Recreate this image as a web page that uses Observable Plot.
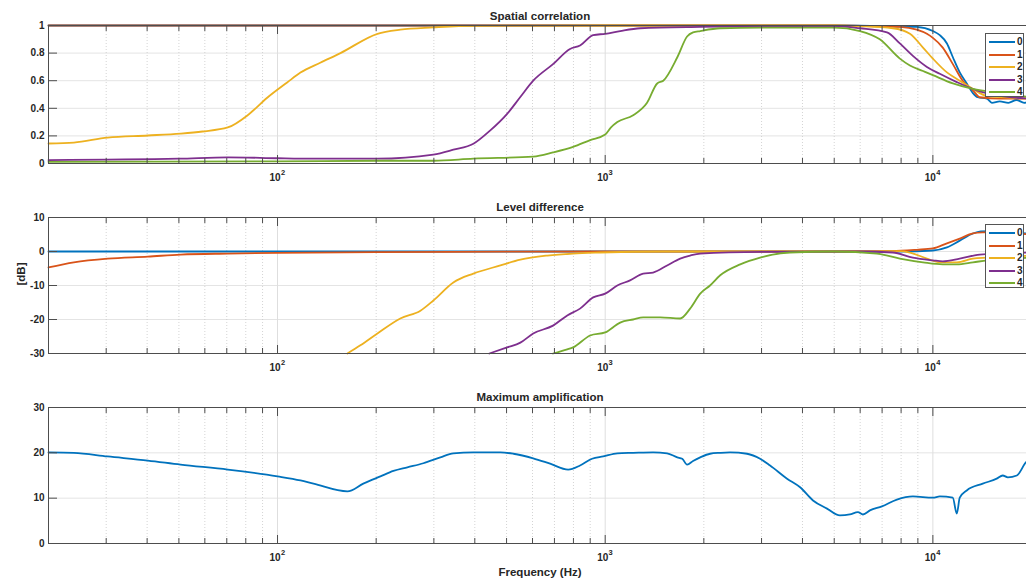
<!DOCTYPE html>
<html>
<head>
<meta charset="utf-8">
<script src="https://cdn.jsdelivr.net/npm/d3@7"></script>
<script src="https://cdn.jsdelivr.net/npm/@observablehq/plot@0.6"></script>
<style>
  html, body { margin: 0; padding: 0; background: #fff; overflow: hidden; }
  #chart { position: relative; width: 1026px; height: 582px; overflow: hidden;
           font-family: "Liberation Sans", Arial, sans-serif; }
  .panel { position: absolute; left: 0; width: 1032px; }
  .panel svg { max-width: none !important; }
  .legend { position: absolute; width: 39px; height: 64px; background: #fff;
            border: 1px solid #555; box-sizing: border-box; }
  .legend .row { position: absolute; left: 0; width: 100%; height: 12px; }
  .legend .swatch { position: absolute; left: 3px; top: 5px; width: 26px; height: 2px; }
  .legend .lab { position: absolute; left: 31px; top: 0; font: bold 10px "Liberation Sans", Arial, sans-serif;
                 line-height: 12px; color: #262626; }
</style>
</head>
<body>
<div id="chart"></div>
<script>
// Series names and MATLAB-style line colours
const SERIES = ["0", "1", "2", "3", "4"];
const COLORS = ["#0072BD", "#D95319", "#EDB120", "#7E2F8E", "#77AC30"];

// Frequency axis: decades (labelled) and minor positions
const DECADES = [100, 1000, 10000];
const MINORS = [30, 40, 50, 60, 70, 80, 90, 200, 300, 400, 500, 600, 700, 800, 900,
                2000, 3000, 4000, 5000, 6000, 7000, 8000, 9000];

// y tick values per panel
const corrTicks = [0, 0.2, 0.4, 0.6, 0.8, 1];
const levelTicks = [-30, -20, -10, 0, 10];
const ampTicks = [0, 10, 20, 30];

// Spatial correlation, [frequency Hz, correlation]
const corr0 = [[20, 1], [1000, 1], [5000, 1], [7000, 0.995], [8930, 0.99], [10000, 0.96], [10500, 0.93],
  [11040, 0.87], [11510, 0.77], [12080, 0.66], [12690, 0.58], [13250, 0.51], [13700, 0.48], [14620, 0.47],
  [15140, 0.44], [16000, 0.45], [17000, 0.44], [18000, 0.46], [19000, 0.44], [20000, 0.46]];
const corr1 = [[20, 1], [1000, 1], [5000, 1], [6500, 0.995], [7930, 0.99], [8930, 0.97], [9590, 0.94],
  [10000, 0.91], [10720, 0.84], [11510, 0.72], [12330, 0.60], [13250, 0.53], [13900, 0.48], [15990, 0.47],
  [20000, 0.47]];
const corr2 = [[20, 0.145], [23.9, 0.152], [30.3, 0.188], [40.2, 0.203], [50.6, 0.217], [59, 0.232],
  [70.5, 0.261], [81.6, 0.355], [93.2, 0.478], [107, 0.587], [117.5, 0.659], [135, 0.73], [155.6, 0.80],
  [201.8, 0.94], [237, 0.97], [299, 0.986], [396, 0.998], [1000, 1], [5000, 1], [5990, 0.995], [7550, 0.98],
  [8510, 0.94], [9330, 0.84], [10000, 0.76], [11040, 0.66], [12080, 0.60], [13250, 0.54], [14620, 0.49],
  [20000, 0.47]];
const corr3 = [[20, 0.025], [50, 0.035], [70.5, 0.045], [100, 0.038], [117.5, 0.035], [201.8, 0.035],
  [299, 0.065], [344, 0.10], [396, 0.143], [446, 0.24], [502, 0.36], [550, 0.48], [603, 0.60], [693, 0.72],
  [781, 0.83], [838, 0.855], [919, 0.93], [1000, 0.94], [1111, 0.96], [1279, 0.98], [1950, 0.99],
  [3000, 0.995], [5000, 0.995], [5990, 0.98], [7244, 0.95], [7930, 0.87], [8690, 0.78], [9590, 0.70],
  [10500, 0.65], [11830, 0.59], [13610, 0.53], [15990, 0.49], [20000, 0.47]];
const corr4 = [[20, 0.012], [100, 0.015], [201.8, 0.02], [299, 0.02], [396, 0.035], [603, 0.05],
  [693, 0.08], [798, 0.12], [900, 0.17], [1000, 0.21], [1040, 0.26], [1089, 0.30], [1217, 0.35],
  [1342, 0.44], [1441, 0.58], [1504, 0.60], [1660, 0.77], [1778, 0.92], [1854, 0.95], [1950, 0.96],
  [2244, 0.98], [3000, 0.985], [5000, 0.985], [5990, 0.96], [6887, 0.90], [7930, 0.76], [8510, 0.71],
  [9330, 0.67], [10000, 0.64], [11510, 0.58], [13250, 0.54], [15990, 0.51], [20000, 0.48]];

// Level difference, [frequency Hz, dB]
const level0 = [[20, 0], [1000, 0], [5000, 0], [8000, 0], [10000, 0.3], [11040, 1.2], [12080, 3.2],
  [13250, 5.3], [14000, 5.9], [15000, 6], [16000, 5.8], [18000, 5.5], [20000, 5.2]];
const level1 = [[20, -4.7], [23.9, -3.2], [30.3, -2.1], [40.2, -1.5], [50.6, -0.9], [70.5, -0.6],
  [100, -0.4], [200, -0.2], [500, -0.05], [1000, 0], [5000, 0], [7500, 0.1], [8930, 0.5], [10000, 0.9],
  [11040, 2.4], [12080, 3.8], [13250, 5.3], [14200, 5.6], [16000, 5.7], [18000, 5.3], [20000, 5.0]];
const level2 = [[163.4, -30], [179, -27.6], [201.8, -24.1], [237, -19.7], [273, -17.4], [299, -14.4],
  [344, -9.1], [396, -6.5], [479, -4.1], [551, -2.4], [666, -1.2], [798, -0.6], [966, -0.3], [1500, 0],
  [5000, 0], [7930, 0.1], [8510, -0.3], [9590, -2.1], [10500, -3.2], [11830, -3.2], [13250, -2.1],
  [14620, -1.8], [20000, -1.2]];
const level3 = [[443, -30], [502, -28.2], [551, -26.8], [603, -24.1], [693, -21.8], [766, -18.8],
  [838, -16.8], [919, -13.5], [1000, -12.4], [1089, -10], [1191, -8.5], [1306, -6.5], [1400, -6.2],
  [1545, -4.1], [1694, -2.1], [1816, -1.2], [1950, -0.6], [3000, -0.1], [6000, 0], [7550, -0.3],
  [8690, -1.8], [10000, -2.6], [10720, -2.9], [12080, -2.1], [13900, -0.9], [20000, -0.3]];
const level4 = [[693, -30], [766, -28.8], [798, -28.2], [900, -24.7], [1000, -23.8], [1111, -20.9],
  [1217, -20], [1306, -19.4], [1472, -19.4], [1694, -19.7], [1816, -16.8], [1950, -12.4], [2089, -10],
  [2244, -7], [2583, -3.8], [2970, -1.8], [3664, -0.3], [5000, 0], [6745, -0.6], [7930, -2.1],
  [9330, -3.2], [10720, -3.8], [11830, -3.8], [13250, -3.2], [14620, -2.6], [20000, -1.8]];

// Maximum amplification, [frequency Hz, dB]
const amp0 = [[20, 20.1], [23.9, 20.0], [30.3, 19.2], [40.2, 18.3], [50.6, 17.4], [70.5, 16.3],
  [100, 14.8], [117.5, 13.9], [128.8, 13.2], [163.4, 11.5], [182.7, 13.2], [206, 14.8], [225.8, 16.0],
  [249, 16.8], [278.6, 17.7], [314, 19.0], [344, 19.9], [396, 20.1], [478.6, 20.1], [524.8, 19.8],
  [603, 18.8], [679, 17.6], [771, 16.3], [838, 17.2], [912, 18.7], [986, 19.2], [1089, 19.9],
  [1217, 20.0], [1400, 20.1], [1545, 19.9], [1660, 19.0], [1718, 18.7], [1778, 17.4], [1854, 18.2],
  [1950, 19.0], [2089, 19.8], [2244, 20.0], [2404, 20.1], [2710, 19.8], [2970, 18.7], [3186, 17.2],
  [3589, 14.3], [3934, 12.4], [4307, 9.5], [4753, 7.7], [5204, 6.2], [5580, 6.4], [5906, 6.9],
  [6118, 6.4], [6426, 7.3], [6992, 8.2], [7766, 9.7], [8690, 10.4], [10000, 10.1], [10500, 10.4],
  [11500, 10.1], [11830, 6.6], [12080, 10.1], [12690, 11.7], [14200, 13.2], [15660, 14.3],
  [16340, 15.0], [16930, 14.6], [18040, 15.0], [19220, 17.9], [20000, 19.0]];

const corrSeries = [corr0, corr1, corr2, corr3, corr4];
const levelSeries = [level0, level1, level2, level3, level4];
const ampSeries = [amp0];

const AXIS = "#4d4d4d";
const TEXT = "#262626";
const FONT = "'Liberation Sans', Arial, sans-serif";

function rows(seriesList) {
  return seriesList.flatMap((pts, i) => pts.map(([f, v]) => ({f, v, s: SERIES[i]})));
}

function panel({top, height, marginTop, marginBottom, yDomain, yTicks, title, titleDy, data, yLabel, xLabel}) {
  const marks = [
    // grid
    Plot.ruleY(yTicks, {stroke: "#e4e4e4", strokeWidth: 1}),
    Plot.ruleX(MINORS, {stroke: "#c9c9c9", strokeWidth: 0.8, strokeDasharray: "1,2"}),
    Plot.ruleX(DECADES, {stroke: "#dedede", strokeWidth: 1}),
    // curves
    Plot.line(rows(data), {x: "f", y: "v", z: "s", stroke: "s", strokeWidth: 1.8, curve: "monotone-x"}),
    // inward ticks (box style)
    Plot.axisX({anchor: "bottom", ticks: DECADES, tickSize: -8, fill: "none", stroke: AXIS, label: null}),
    Plot.axisX({anchor: "bottom", ticks: MINORS, tickSize: -5, fill: "none", stroke: AXIS, label: null}),
    Plot.axisX({anchor: "top", ticks: DECADES, tickSize: -8, fill: "none", stroke: AXIS, label: null}),
    Plot.axisX({anchor: "top", ticks: MINORS, tickSize: -5, fill: "none", stroke: AXIS, label: null}),
    Plot.axisY({anchor: "left", ticks: yTicks, tickSize: -9, fill: "none", stroke: AXIS, label: null}),
    // y tick labels
    Plot.axisY({anchor: "left", ticks: yTicks, tickSize: 0, tickPadding: 4, tickFormat: d => String(d),
                fill: TEXT, label: null}),
    // decade labels 10^n
    Plot.text(DECADES, {x: d => d, text: () => "10", frameAnchor: "bottom", lineAnchor: "middle",
                        dy: 14.5, dx: -2.5, fill: TEXT, fontSize: 10}),
    Plot.text(DECADES, {x: d => d, text: d => String(Math.round(Math.log10(d))), frameAnchor: "bottom",
                        lineAnchor: "middle", dy: 9, dx: 5.5, fill: TEXT, fontSize: 7.5}),
    // title
    Plot.text([title], {frameAnchor: "top", lineAnchor: "middle", dy: titleDy, fill: TEXT, fontSize: 11.5}),
    Plot.frame({stroke: AXIS, strokeWidth: 1})
  ];
  if (yLabel) marks.push(Plot.text([yLabel], {frameAnchor: "left", lineAnchor: "middle", dx: -27, rotate: -90,
                                              fill: TEXT, fontSize: 11.5}));
  if (xLabel) marks.push(Plot.text([xLabel], {frameAnchor: "bottom", lineAnchor: "middle", dy: 29,
                                              fill: TEXT, fontSize: 11.5}));

  const svg = Plot.plot({
    width: 1032,
    height,
    marginLeft: 48,
    marginRight: 1,
    marginTop,
    marginBottom,
    style: {fontFamily: FONT, fontWeight: "bold", fontSize: "10px", color: TEXT, background: "transparent",
            overflow: "visible", maxWidth: "none"},
    x: {type: "log", domain: [20, 20000], axis: null},
    y: {domain: yDomain, axis: null},
    color: {domain: SERIES, range: COLORS},
    marks
  });
  const wrap = document.createElement("div");
  wrap.className = "panel";
  wrap.style.top = top + "px";
  wrap.appendChild(svg);
  document.getElementById("chart").appendChild(wrap);
}

function legend(left, top) {
  const box = document.createElement("div");
  box.className = "legend";
  box.style.left = left + "px";
  box.style.top = top + "px";
  SERIES.forEach((name, i) => {
    const row = document.createElement("div");
    row.className = "row";
    row.style.top = (2 + i * 12.6) + "px";
    const sw = document.createElement("div");
    sw.className = "swatch";
    sw.style.background = COLORS[i];
    const lab = document.createElement("div");
    lab.className = "lab";
    lab.textContent = name;
    row.appendChild(sw);
    row.appendChild(lab);
    box.appendChild(row);
  });
  document.getElementById("chart").appendChild(box);
}

panel({top: 0, height: 190, marginTop: 25, marginBottom: 27, yDomain: [0, 1], yTicks: corrTicks,
       title: "Spatial correlation", titleDy: -9, data: corrSeries});
panel({top: 190, height: 190, marginTop: 27, marginBottom: 27, yDomain: [-30, 10], yTicks: levelTicks,
       title: "Level difference", titleDy: -10, data: levelSeries, yLabel: "[dB]"});
panel({top: 380, height: 202, marginTop: 27, marginBottom: 39, yDomain: [0, 30], yTicks: ampTicks,
       title: "Maximum amplification", titleDy: -10, data: ampSeries, xLabel: "Frequency (Hz)"});

legend(985, 33);
legend(985, 224);
</script>
</body>
</html>
